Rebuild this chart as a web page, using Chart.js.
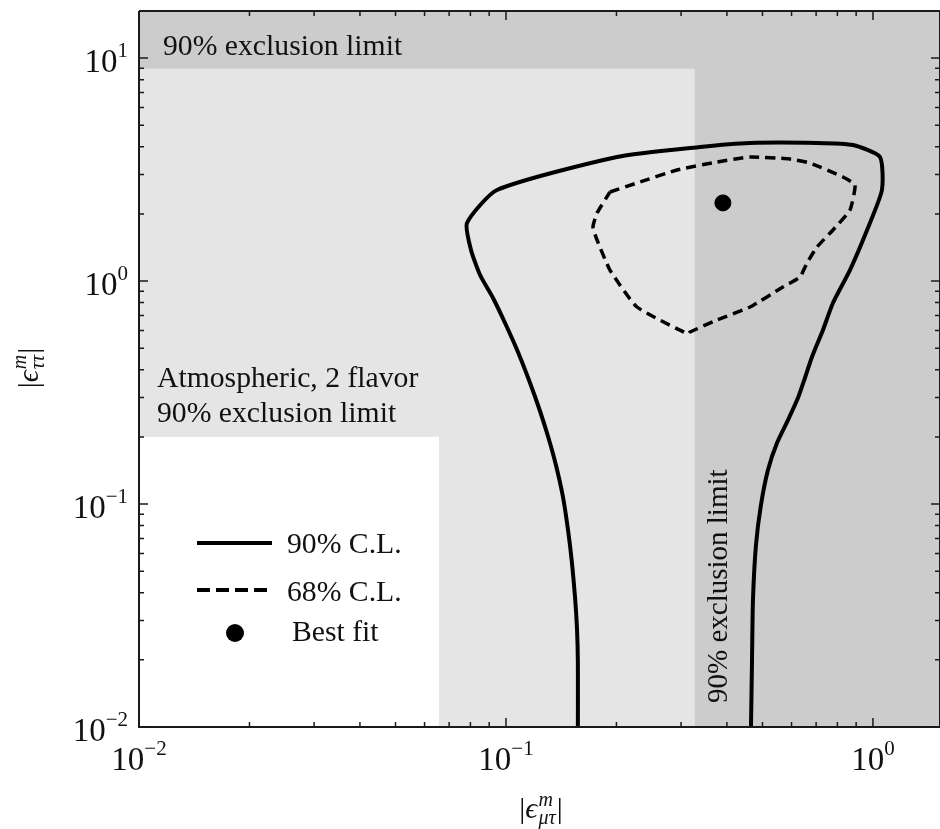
<!DOCTYPE html>
<html>
<head>
<meta charset="utf-8">
<script src="https://cdn.jsdelivr.net/npm/chart.js@4.4.0/dist/chart.umd.min.js"></script>
<style>
  html, body { margin: 0; padding: 0; background: #fff; }
  canvas { display: block; }
</style>
</head>
<body>
<canvas id="chart" width="940" height="829"></canvas>
<script>
// 90% C.L. contour, open at the bottom edge (left leg -> top -> right leg)
const cl90X = [0.157, 0.157, 0.1562, 0.1542, 0.1513, 0.1476, 0.143, 0.1368, 0.1301, 0.123, 0.1155, 0.1078, 0.1,
  0.0922, 0.085, 0.0803, 0.0783,
  0.0945, 0.2007, 0.3378, 0.4623, 0.7037, 0.882, 1.045, 1.058, 0.9632, 0.8656, 0.778,
  0.7308, 0.682, 0.6527, 0.6246, 0.5867, 0.5476, 0.5175, 0.4952, 0.48, 0.471, 0.4681, 0.4652];
const cl90Y = [0.01, 0.0194, 0.0272, 0.0383, 0.0544, 0.0764, 0.1075, 0.1496, 0.2018, 0.2695, 0.3597, 0.4805, 0.6349,
  0.8389, 1.064, 1.377, 1.82,
  2.56, 3.6, 3.99, 4.16, 4.16, 4.07, 3.6, 2.56, 1.69, 1.12, 0.797,
  0.603, 0.4561, 0.3673, 0.2987, 0.238, 0.1877, 0.1421, 0.099, 0.0655, 0.0371, 0.0194, 0.01];

// 68% C.L. contour, closed loop
const cl68X = [0.192, 0.2275, 0.2922, 0.3757, 0.4623, 0.594, 0.6734, 0.8287, 0.8934, 0.8656, 0.778, 0.7037, 0.661,
  0.6326, 0.5685, 0.4623, 0.3757, 0.3172, 0.3135, 0.2275, 0.192, 0.1771, 0.1726, 0.1771, 0.192];
const cl68Y = [2.507, 2.751, 3.147, 3.417, 3.6, 3.524, 3.381, 2.927, 2.695, 2.081, 1.693, 1.42, 1.204,
  1.042, 0.94, 0.7646, 0.6684, 0.5905, 0.578, 0.7646, 1.12, 1.527, 1.747, 2.018, 2.507];

const bestFitX = [0.39];
const bestFitY = [2.24];

// shaded regions [xmin, xmax, ymin, ymax]
const allowedBox = [0.01, 0.327, 0.01, 8.95];
const atmosphericBox = [0.01, 0.0657, 0.01, 0.2];

const xRange = [0.01, 1.523];
const yRange = [0.01, 16.25];
const xDecades = [-2, -1, 0];
const yDecades = [-2, -1, 0, 1];
const minorSteps = [2, 3, 4, 5, 6, 7, 8, 9];

const SERIF = '"Liberation Serif", "DejaVu Serif", serif';
const TEXT_FONT = '29.7px ' + SERIF;

const toPoints = (xs, ys) => xs.map((v, i) => ({ x: v, y: ys[i] }));

/*
  ==================================================
  ===================== PLUGINS ====================
  ==================================================
*/

const regionsPlugin = {
  id: 'regions',
  beforeDatasetsDraw(chart) {
    const { ctx, chartArea: a, scales: { x, y } } = chart;
    const box = (b, color) => {
      const x0 = x.getPixelForValue(b[0]), x1 = x.getPixelForValue(b[1]);
      const y0 = y.getPixelForValue(b[3]), y1 = y.getPixelForValue(b[2]);
      ctx.fillStyle = color;
      ctx.fillRect(x0, y0, x1 - x0, y1 - y0);
    };
    ctx.save();
    ctx.fillStyle = '#cccccc';
    ctx.fillRect(a.left, a.top, a.right - a.left, a.bottom - a.top);
    box(allowedBox, '#e5e5e5');
    box(atmosphericBox, '#ffffff');

    ctx.fillStyle = '#111';
    ctx.font = TEXT_FONT;
    ctx.textAlign = 'left';
    ctx.textBaseline = 'alphabetic';
    ctx.fillText('90% exclusion limit', 163, 55);
    ctx.fillText('Atmospheric, 2 flavor', 157, 387);
    ctx.fillText('90% exclusion limit', 157, 422);
    ctx.translate(727, 703);
    ctx.rotate(-Math.PI / 2);
    ctx.font = '29px ' + SERIF;
    ctx.fillText('90% exclusion limit', 0, 0);
    ctx.restore();
  }
};

// math label like |ϵ^m_sub|, centred on cx
function mathLabel(ctx, cx, base, sub) {
  const big = 'italic 30px ' + SERIF, small = 'italic 20px ' + SERIF, bar = '30px ' + SERIF;
  ctx.font = bar; const wBar = ctx.measureText('|').width;
  ctx.font = big; const wEps = ctx.measureText('ϵ').width;
  ctx.font = small;
  const wSup = ctx.measureText('m').width, wSub = ctx.measureText(sub).width;
  const wScript = Math.max(wSup, wSub);
  const total = wBar * 2 + wEps + wScript + 2;
  let cur = cx - total / 2;
  ctx.textAlign = 'left';
  ctx.textBaseline = 'alphabetic';
  ctx.font = bar; ctx.fillText('|', cur, base); cur += wBar;
  ctx.font = big; ctx.fillText('ϵ', cur, base); cur += wEps + 1;
  ctx.font = small;
  ctx.fillText('m', cur, base - 12);
  ctx.fillText(sub, cur, base + 6);
  cur += wScript + 1;
  ctx.font = bar; ctx.fillText('|', cur, base);
}

function powerLabel(ctx, exp, left, base) {
  ctx.textAlign = 'left';
  ctx.textBaseline = 'alphabetic';
  ctx.font = '33px ' + SERIF;
  ctx.fillText('10', left, base);
  const w = ctx.measureText('10').width;
  ctx.font = '21px ' + SERIF;
  ctx.fillText(exp < 0 ? '\u2212' + (-exp) : String(exp), left + w, base - 15);
}

function powerWidth(ctx, exp) {
  ctx.font = '33px ' + SERIF;
  const w = ctx.measureText('10').width;
  ctx.font = '21px ' + SERIF;
  return w + ctx.measureText(exp < 0 ? '\u2212' + (-exp) : String(exp)).width;
}

const axesPlugin = {
  id: 'axes',
  afterDraw(chart) {
    const { ctx, chartArea: a, scales: { x, y } } = chart;
    ctx.save();

    // legend
    ctx.strokeStyle = '#000';
    ctx.lineWidth = 4;
    ctx.beginPath(); ctx.moveTo(197, 543); ctx.lineTo(272, 543); ctx.stroke();
    ctx.setLineDash([13, 6]);
    ctx.beginPath(); ctx.moveTo(197, 590); ctx.lineTo(272, 590); ctx.stroke();
    ctx.setLineDash([]);
    ctx.fillStyle = '#000';
    ctx.beginPath(); ctx.arc(235, 633, 9, 0, Math.PI * 2); ctx.fill();
    ctx.fillStyle = '#111';
    ctx.font = TEXT_FONT;
    ctx.textAlign = 'left';
    ctx.fillText('90% C.L.', 287, 553);
    ctx.fillText('68% C.L.', 287, 601);
    ctx.fillText('Best fit', 292, 641);

    // frame
    ctx.strokeStyle = '#1a1a1a';
    ctx.lineWidth = 2;
    ctx.beginPath();
    ctx.moveTo(a.left, a.top); ctx.lineTo(a.right, a.top);
    ctx.moveTo(a.left, a.top); ctx.lineTo(a.left, a.bottom); ctx.lineTo(a.right, a.bottom);
    ctx.moveTo(a.right, a.top); ctx.lineTo(a.right, a.bottom);
    ctx.stroke();

    // inward ticks
    ctx.lineWidth = 1.5;
    ctx.beginPath();
    const xTick = (v, len) => {
      const px = x.getPixelForValue(v);
      if (px < a.left - 0.5 || px > a.right + 0.5) return;
      ctx.moveTo(px, a.bottom); ctx.lineTo(px, a.bottom - len);
      ctx.moveTo(px, a.top); ctx.lineTo(px, a.top + len);
    };
    const yTick = (v, len) => {
      const py = y.getPixelForValue(v);
      if (py < a.top - 0.5 || py > a.bottom + 0.5) return;
      ctx.moveTo(a.left, py); ctx.lineTo(a.left + len, py);
      ctx.moveTo(a.right, py); ctx.lineTo(a.right - len, py);
    };
    xDecades.forEach(d => {
      xTick(Math.pow(10, d), 9);
      minorSteps.forEach(k => xTick(k * Math.pow(10, d), 5));
    });
    yDecades.forEach(d => {
      yTick(Math.pow(10, d), 9);
      minorSteps.forEach(k => yTick(k * Math.pow(10, d), 5));
    });
    ctx.stroke();

    // tick labels
    ctx.fillStyle = '#111';
    xDecades.forEach(d => {
      const px = x.getPixelForValue(Math.pow(10, d));
      powerLabel(ctx, d, px - powerWidth(ctx, d) / 2, 770);
    });
    yDecades.forEach(d => {
      const py = y.getPixelForValue(Math.pow(10, d));
      powerLabel(ctx, d, 128 - powerWidth(ctx, d), py + 14);
    });

    // axis titles
    mathLabel(ctx, 541, 818, 'μτ');
    ctx.translate(38, 368);
    ctx.rotate(-Math.PI / 2);
    mathLabel(ctx, 0, 0, 'ττ');
    ctx.restore();
  }
};

/*
  ==================================================
  ====================== CHART =====================
  ==================================================
*/

const chart = new Chart(document.getElementById('chart').getContext('2d'), {
  type: 'scatter',
  data: {
    datasets: [{
      label: '90% C.L.',
      data: toPoints(cl90X, cl90Y),
      showLine: true,
      borderColor: '#000',
      borderWidth: 4,
      pointRadius: 0,
      tension: 0.2
    }, {
      label: '68% C.L.',
      data: toPoints(cl68X, cl68Y),
      showLine: true,
      borderColor: '#000',
      borderWidth: 3.5,
      borderDash: [10, 6],
      pointRadius: 0,
      tension: 0.15
    }, {
      label: 'Best fit',
      data: toPoints(bestFitX, bestFitY),
      backgroundColor: '#000',
      borderColor: '#000',
      pointRadius: 8
    }]
  },
  options: {
    responsive: false,
    animation: false,
    devicePixelRatio: 1,
    layout: { autoPadding: false, padding: { left: 139, top: 11, right: 0, bottom: 102 } },
    plugins: { legend: { display: false }, tooltip: { enabled: false } },
    scales: {
      x: { type: 'logarithmic', min: xRange[0], max: xRange[1], display: false },
      y: { type: 'logarithmic', min: yRange[0], max: yRange[1], display: false }
    }
  },
  plugins: [regionsPlugin, axesPlugin]
});
</script>
</body>
</html>
